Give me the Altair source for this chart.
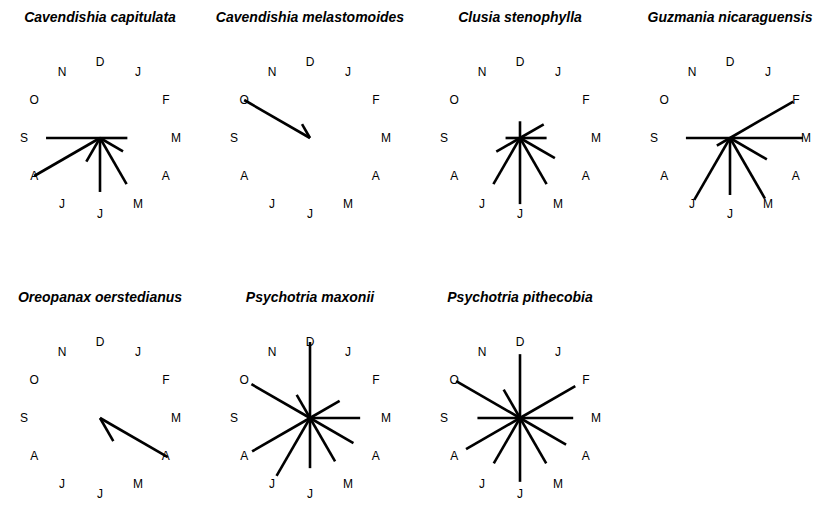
import altair as alt
import pandas as pd

species = [
    "Cavendishia capitulata",
    "Cavendishia melastomoides",
    "Clusia stenophylla",
    "Guzmania nicaraguensis",
    "Oreopanax oerstedianus",
    "Psychotria maxonii",
    "Psychotria pithecobia",
]
month_labels = ["J", "F", "M", "A", "M", "J", "J", "A", "S", "O", "N", "D"]
month_num = list(range(1, 13))

# relative flowering intensity per month, Jan..Dec (1.0 = outer label ring)
cav_cap = [0, 0, 0.36, 0.35, 0.70, 0.71, 0.36, 1.00, 0.71, 0, 0, 0]
cav_mel = [0, 0, 0, 0, 0, 0, 0, 0, 0, 1.00, 0.21, 0]
clu_ste = [0, 0.36, 0.35, 0.53, 0.70, 0.87, 0.70, 0.36, 0.19, 0, 0, 0.22]
guz_nic = [0, 0.96, 0.96, 0.56, 0.92, 0.75, 0.94, 0.20, 0.58, 0, 0, 0]
ore_oer = [0, 0, 0, 1.03, 0.35, 0, 0, 0, 0, 0, 0, 0]
psy_max = [0, 0.45, 0.66, 0.66, 0.66, 0.66, 0.88, 0.88, 0, 0.89, 0.35, 1.00]
psy_pit = [0, 0.84, 0.70, 0.70, 0.69, 0.84, 0.69, 0.82, 0.56, 0.97, 0.43, 0.84]

series = [cav_cap, cav_mel, clu_ste, guz_nic, ore_oer, psy_max, psy_pit]

rows = []
for sp, vals in zip(species, series):
    for m, lab, v in zip(month_num, month_labels, vals):
        rows.append({"species": sp, "month": m, "label": lab, "value": v})
df = pd.DataFrame(rows)

W, H, PX = 170, 164, 76.0  # panel size and pixels per value unit
RX = W / 2 / PX
RY = H / 2 / PX
scale_x = alt.Scale(domain=[-RX, RX], nice=False, zero=False)
scale_y = alt.Scale(domain=[-RY, RY], nice=False, zero=False)

base = alt.Chart().transform_calculate(
    ang="datum.month * 30 * PI / 180",
).transform_calculate(
    x0="0",
    y0="0",
    xe="datum.value * sin(datum.ang)",
    ye="datum.value * cos(datum.ang)",
    xl="sin(datum.ang)",
    yl="cos(datum.ang)",
)

spokes = base.transform_filter("datum.value > 0").mark_rule(
    color="black", strokeWidth=2.6, strokeCap="butt"
).encode(
    x=alt.X("x0:Q", scale=scale_x, axis=None),
    y=alt.Y("y0:Q", scale=scale_y, axis=None),
    x2="xe:Q",
    y2="ye:Q",
)

labels = base.mark_text(
    font="Liberation Sans", fontSize=12, color="black", baseline="middle", align="center"
).encode(
    x=alt.X("xl:Q", scale=scale_x, axis=None),
    y=alt.Y("yl:Q", scale=scale_y, axis=None),
    text="label:N",
)

chart = alt.layer(spokes, labels, data=df).properties(
    width=W, height=H
).facet(
    facet=alt.Facet(
        "species:N",
        sort=species,
        header=alt.Header(
            title=None,
            labelFont="Liberation Sans",
            labelFontSize=14,
            labelFontWeight="bold",
            labelFontStyle="italic",
            labelColor="black",
            labelPadding=31,
        ),
    ),
    columns=4,
    bounds="flush",
    spacing={"row": 116, "column": 40},
).properties(
    padding={"left": 7, "top": 3, "right": 0, "bottom": 0}
).configure_view(stroke=None)

chart.save("out.html", embed_options={"renderer": "svg", "actions": False})
